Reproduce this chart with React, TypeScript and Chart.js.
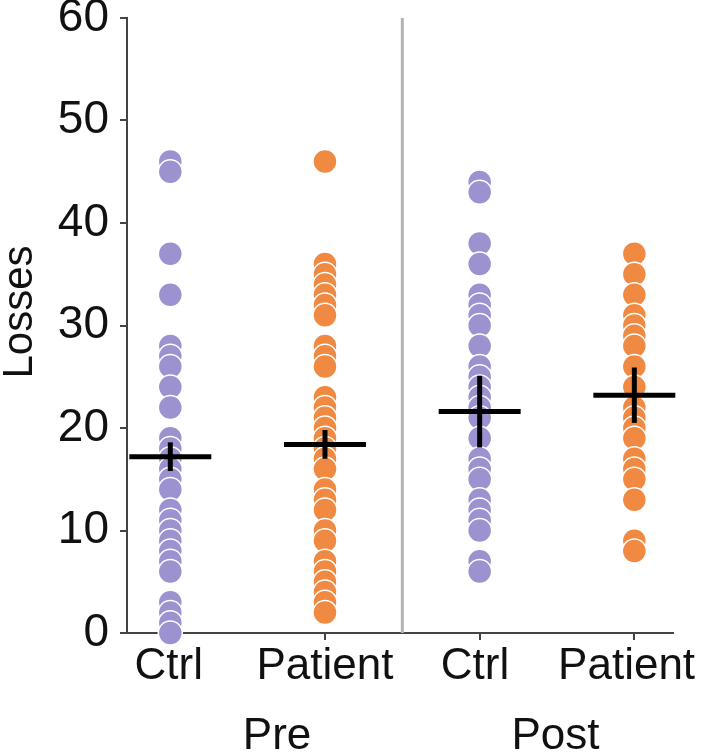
import React, { useEffect, useRef } from "react";
import { Chart, registerables } from "chart.js";

Chart.register(...registerables);

// ---- data ----
const groupLabels = ["Ctrl", "Patient", "Ctrl", "Patient"];
const phaseLabels = ["Pre", "Post"];
const yTicks = [0, 10, 20, 30, 40, 50, 60];

const ctrlPre = [46, 45, 37, 33, 28, 27, 26, 24, 22, 19, 18, 17, 16, 15, 14, 12, 11, 10, 9, 8, 7, 6, 3, 2, 1, 0];
const patientPre = [46, 36, 35, 34, 33, 32, 31, 28, 27, 26, 23, 22, 21, 20, 19, 18, 17, 16, 14, 13, 12, 10, 9, 7, 6, 5, 4, 3, 2];
const ctrlPost = [44, 43, 38, 36, 33, 32, 31, 30, 28, 26, 25, 24, 23, 22, 21, 19, 17, 16, 15, 13, 12, 11, 10, 7, 6];
const patientPost = [37, 35, 33, 31, 30, 29, 28, 26, 24, 22, 21, 20, 19, 17, 16, 15, 13, 9, 8];

const groupValues = [ctrlPre, patientPre, ctrlPost, patientPost];
const means = [17.2, 18.4, 21.6, 23.2];
const sems = [1.4, 1.4, 3.5, 2.7];

// ---- styling / layout ----
const PURPLE = "#9c92cf";
const ORANGE = "#f08a42";
const groupColors = [PURPLE, ORANGE, PURPLE, ORANGE];
const FONT = "'Liberation Sans', Arial, sans-serif";
const labelPos = [-0.01, 1.0, 1.97, 2.95];
const phasePos = [0.69, 2.49];
const meanHalf = 0.265;

const textPlugin = {
  id: "textPlugin",
  afterDraw(chart: any) {
    const ctx = chart.ctx;
    const xs = chart.scales.x;
    ctx.save();
    ctx.fillStyle = "#111";
    ctx.font = `44px ${FONT}`;
    ctx.textAlign = "center";
    ctx.textBaseline = "alphabetic";
    groupLabels.forEach((l, i) => {
      ctx.fillText(l, xs.getPixelForValue(labelPos[i]), 679);
    });
    phaseLabels.forEach((l, i) => {
      ctx.fillText(l, xs.getPixelForValue(phasePos[i]), 749);
    });
    ctx.translate(20, 312);
    ctx.rotate(-Math.PI / 2);
    ctx.textBaseline = "middle";
    ctx.font = `42px ${FONT}`;
    ctx.fillText("Losses", 0, 0);
    ctx.restore();
  },
};

export default function App() {
  const ref = useRef<HTMLCanvasElement>(null);

  useEffect(() => {
    if (!ref.current) return;
    const datasets: any[] = [];

    means.forEach((m, i) => {
      datasets.push({
        type: "line",
        data: [
          { x: i - meanHalf, y: m },
          { x: i + meanHalf, y: m },
        ],
        borderColor: "#000",
        borderWidth: 5,
        pointRadius: 0,
        showLine: true,
        clip: false,
        order: 0,
      });
      datasets.push({
        type: "line",
        data: [
          { x: i, y: m - sems[i] },
          { x: i, y: m + sems[i] },
        ],
        borderColor: "#000",
        borderWidth: 5,
        pointRadius: 0,
        showLine: true,
        clip: false,
        order: 0,
      });
    });

    groupValues.forEach((vals, i) => {
      datasets.push({
        type: "scatter",
        data: vals.map((v) => ({ x: i, y: v })),
        backgroundColor: groupColors[i],
        borderColor: "#ffffff",
        borderWidth: 1.5,
        pointRadius: 12,
        clip: false,
        order: 1,
      });
    });

    datasets.push({
      type: "line",
      data: [
        { x: 1.5, y: 0 },
        { x: 1.5, y: 60 },
      ],
      borderColor: "#b3b3b3",
      borderWidth: 3,
      pointRadius: 0,
      showLine: true,
      clip: false,
      order: 2,
    });

    const chart = new Chart(ref.current, {
      type: "scatter",
      data: { datasets },
      plugins: [textPlugin],
      options: {
        animation: false,
        responsive: true,
        maintainAspectRatio: false,
        layout: { padding: { top: 18, right: 36, left: 0, bottom: 0 } },
        plugins: { legend: { display: false }, tooltip: { enabled: false } },
        scales: {
          x: {
            type: "linear",
            min: -0.28,
            max: 3.25,
            afterBuildTicks: (s: any) => {
              s.ticks = [0, 1, 2, 3].map((v) => ({ value: v }));
            },
            ticks: { display: false },
            grid: { drawOnChartArea: false, drawTicks: true, tickLength: 7, color: "#444", lineWidth: 2 },
            border: { display: true, color: "#444", width: 2 },
            afterFit: (s: any) => {
              s.height = 123;
              s.paddingLeft = 0;
              s.paddingRight = 0;
            },
          },
          y: {
            type: "linear",
            min: 0,
            max: 60,
            afterBuildTicks: (s: any) => {
              s.ticks = yTicks.map((v) => ({ value: v }));
            },
            ticks: { color: "#111", font: { size: 46, family: FONT }, padding: 11 },
            grid: { drawOnChartArea: false, drawTicks: true, tickLength: 7, color: "#444", lineWidth: 2 },
            border: { display: true, color: "#444", width: 2 },
            afterFit: (s: any) => {
              s.width = 127;
              s.paddingTop = 0;
              s.paddingBottom = 0;
            },
          },
        },
      },
    });
    return () => chart.destroy();
  }, []);

  return (
    <div style={{ position: "absolute", left: 0, top: 0, width: 709, height: 756, background: "#fff" }}>
      <canvas ref={ref} />
    </div>
  );
}
